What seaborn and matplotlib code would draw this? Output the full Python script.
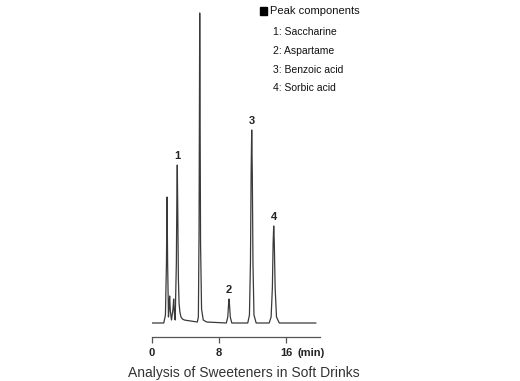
import matplotlib
matplotlib.use("Agg")
import matplotlib.pyplot as plt
import seaborn as sns
import pandas as pd
from matplotlib.patches import Rectangle

# chromatogram trace (time in min, signal in arbitrary units)
times = [0.0, 1.40, 1.60, 1.72, 1.79, 1.86, 1.96, 2.04, 2.10, 2.18, 2.32,
         2.50, 2.58, 2.66, 2.76, 2.90, 2.96, 3.01, 3.07, 3.14, 3.22, 3.32,
         3.45, 3.62, 3.85, 4.20, 4.60, 5.00, 5.40, 5.52, 5.60, 5.65, 5.68,
         5.72, 5.78, 5.90, 6.10, 6.50, 8.85, 9.02, 9.11, 9.17, 9.23, 9.32,
         9.50, 11.40, 11.60, 11.72, 11.80, 11.87, 11.94, 12.02, 12.14, 12.40,
         13.95, 14.18, 14.33, 14.42, 14.49, 14.56, 14.66, 14.82, 15.15, 19.52]
signal = [0, 0, 8, 60, 126, 60, 6, 18, 27, 12, 3,
          14, 24, 10, 3, 60, 125, 158, 110, 45, 20, 11,
          6, 4, 3, 2.5, 2, 1.5, 1, 6, 90, 220, 310,
          220, 80, 14, 3, 1, 0, 6, 18, 24, 18, 6,
          0, 0, 8, 60, 150, 193, 150, 60, 8, 0,
          0, 6, 35, 80, 97, 80, 35, 6, 0, 0]

peak_ids = ["1", "2", "3", "4"]
peak_times = [3.01, 9.17, 11.87, 14.49]
peak_heights = [158, 24, 193, 97]

components = ["1: Saccharine", "2: Aspartame", "3: Benzoic acid", "4: Sorbic acid"]
x_ticks = [0, 8, 16]

df = pd.DataFrame({"time": times, "signal": signal})

sns.set_theme(style="white")
plt.rcParams["font.family"] = ["Liberation Sans", "DejaVu Sans"]

fig = plt.figure(figsize=(5.2, 3.81), dpi=100)
ax = fig.add_axes([152 / 520, 44 / 381, 168 / 520, 327 / 381])

sns.lineplot(data=df, x="time", y="signal", estimator=None, sort=False,
             color="#3a3a3a", linewidth=0.9, ax=ax)

for pid, t, h in zip(peak_ids, peak_times, peak_heights):
    ax.annotate(pid, (t, h), xytext=(0, 3), textcoords="offset points",
                ha="center", va="bottom", fontsize=8, fontweight="bold",
                color="#222222")

ax.set_xlim(0, 20)
ax.set_ylim(-14, 313)
ax.set_xticks(x_ticks)
ax.set_xticklabels([str(v) for v in x_ticks], fontsize=8,
                   fontweight="bold", color="#222222")
ax.set_yticks([])
ax.set_xlabel("")
ax.set_ylabel("")
for side in ["top", "right", "left"]:
    ax.spines[side].set_visible(False)
ax.spines["bottom"].set_color("#555555")
ax.spines["bottom"].set_linewidth(0.9)
ax.tick_params(axis="x", direction="out", length=4, width=0.9,
               color="#555555", pad=4, bottom=True)
ax.patch.set_alpha(0)

fig.text(298 / 520, 1 - 353 / 381, "(min)", fontsize=8, fontweight="bold",
         color="#222222", va="center", ha="left")

# legend block at top right
fig.patches.append(Rectangle((260 / 520, 1 - 15 / 381), 7 / 520, 8 / 381,
                             transform=fig.transFigure, color="black"))
fig.text(270 / 520, 1 - 11 / 381, "Peak components", fontsize=8,
         color="#111111", va="center", ha="left")
for i, name in enumerate(components):
    fig.text(273 / 520, 1 - (32 + 18.8 * i) / 381, name, fontsize=7.5,
             color="#111111", va="center", ha="left")

fig.text(244 / 520, 1 - 373 / 381, "Analysis of Sweeteners in Soft Drinks",
         fontsize=10, color="#333333", va="center", ha="center")

fig.savefig("out.png", dpi=100)
